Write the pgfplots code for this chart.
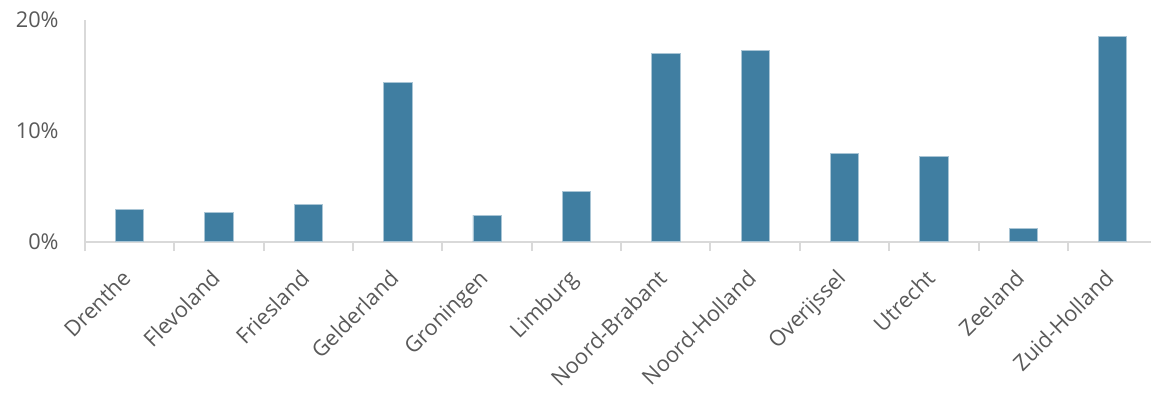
\documentclass[border=0pt]{standalone}
\usepackage{pgfplots}
\pgfplotsset{compat=1.18}
\usepackage{fontspec}
\setmainfont{Open Sans}
\definecolor{barblue}{HTML}{407EA1}
\definecolor{axgray}{HTML}{D9D9D9}
\definecolor{txtgray}{HTML}{595959}
\begin{document}
\begin{tikzpicture}
\begin{axis}[
  x=67pt,
  height=166.3pt, scale only axis,
  xmin=-0.5, xmax=11.43,
  ymin=0, ymax=20,
  axis lines*=left,
  axis line style={axgray, line width=1.5pt},
  every outer x axis line/.append style={-},
  every outer y axis line/.append style={-},
  separate axis lines,
  ytick={0,10,20},
  yticklabel={\pgfmathprintnumber{\tick}\%},
  /pgf/number format/assume math mode=true,
  major y tick style={draw=none},
  yticklabel style={font=\fontsize{16.3}{18}\selectfont, text=txtgray, xshift=-12pt},
  xtick={0,...,11},
  xticklabels={Drenthe,Flevoland,Friesland,Gelderland,Groningen,Limburg,Noord-Brabant,Noord-Holland,Overijssel,Utrecht,Zeeland,Zuid-Holland},
  major x tick style={draw=none},
  minor xtick={-0.5,0.5,...,11.5},
  minor x tick style={axgray, line width=1.5pt},
  minor tick length=7pt,
  tick align=outside,
  xticklabel style={font=\fontsize{16.3}{18}\selectfont, text=txtgray, xshift=-7pt, yshift=-14pt, rotate=45, anchor=north east, inner sep=1pt},
  clip=false,
]
\addplot[ybar, bar width=0.317, fill=barblue, draw=barblue!45!white, line width=0.6pt] coordinates {
 (0,2.92) (1,2.68) (2,3.34) (3,14.35) (4,2.41) (5,4.51)
 (6,17.0) (7,17.27) (8,7.94) (9,7.73) (10,1.21) (11,18.5)
};
\end{axis}
\pgfresetboundingbox
\useasboundingbox ([xshift=-63.75pt,yshift=-113.5pt]current axis.south west) rectangle ([yshift=15pt]current axis.north east);
\end{tikzpicture}
\end{document}
